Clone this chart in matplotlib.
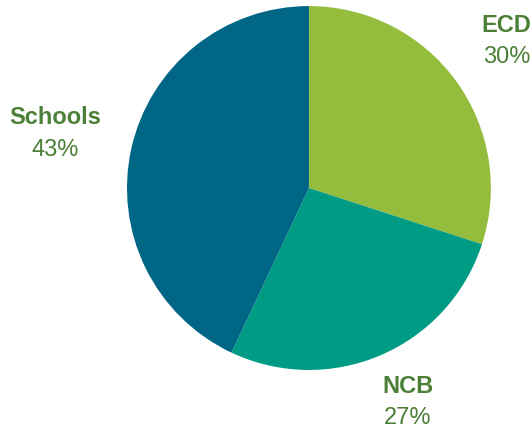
import matplotlib
matplotlib.use("Agg")
import matplotlib.pyplot as plt

# Data
categories = ["ECD", "NCB", "Schools"]
shares = [30, 27, 43]
colors = ["#95BD3D", "#009B85", "#006685"]
label_color = "#4C7F37"

# label anchor (x, y) in pie units, name above percentage
label_pos = {"ECD": (1.085, 0.895), "NCB": (0.545, -1.09), "Schools": (-1.395, 0.385)}
pct_gap = 0.175

fig = plt.figure(figsize=(5.32, 4.32), dpi=100)
ax = fig.add_axes([0.2387, 0.1435, 0.684, 0.8426])
ax.pie(shares, colors=colors, startangle=90, counterclock=False,
       radius=1.0, wedgeprops=dict(linewidth=0))
ax.set_xlim(-1, 1)
ax.set_ylim(-1, 1)
ax.set_aspect("equal")
ax.axis("off")

for cat, val in zip(categories, shares):
    x, y = label_pos[cat]
    ax.text(x, y, cat, ha="center", va="center", fontsize=17, fontweight="bold",
            color=label_color, family="Liberation Sans", clip_on=False)
    ax.text(x, y - pct_gap, f"{val}%", ha="center", va="center", fontsize=17,
            color=label_color, family="Liberation Sans", clip_on=False)

fig.savefig("out.png", dpi=100)
